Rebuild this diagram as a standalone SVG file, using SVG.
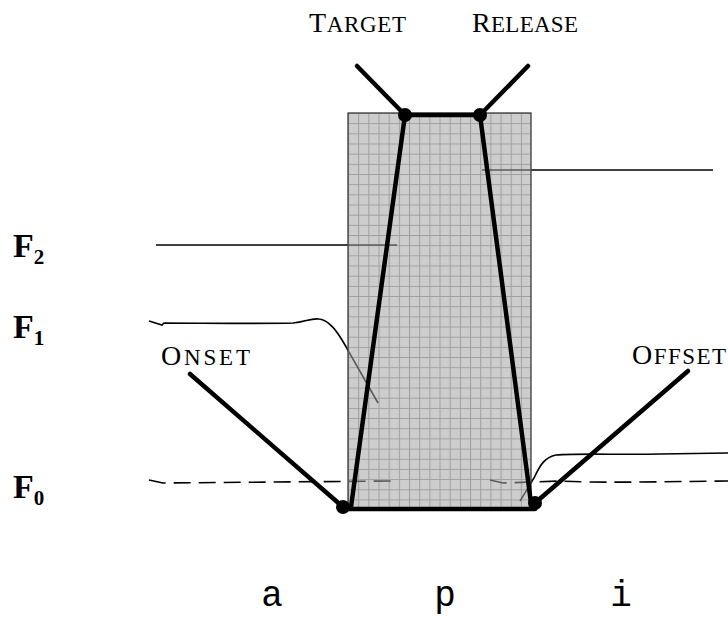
<svg xmlns="http://www.w3.org/2000/svg" width="728" height="619" viewBox="0 0 728 619">
<style>
.lbl{font-family:"Liberation Serif","Times New Roman",serif;fill:#000}
.flbl{font-family:"Liberation Serif","Times New Roman",serif;font-weight:bold;fill:#000}
.seg{font-family:"Liberation Mono","DejaVu Sans Mono",monospace;fill:#000;font-size:36px}
.trace{fill:none;stroke-width:1.6}
.dash{fill:none;stroke-width:1.6;stroke-dasharray:17 8}
.thick{fill:none;stroke:#000;stroke-width:4.5;stroke-linecap:round}
.dot{fill:#000}
</style>
<defs>
<pattern id="grid" x="348" y="113" width="10.17" height="10.17" patternUnits="userSpaceOnUse">
<rect width="10.17" height="10.17" fill="#cdcdcd"/>
<path d="M0,0.5 H10.17 M0.5,0 V10.17" stroke="#a0a0a0" stroke-width="1"/>
</pattern>
<clipPath id="inrect"><rect x="348" y="113" width="183" height="396"/></clipPath>
<g id="tracks">
<path class="trace" d="M156,245 H397"/>
<path class="trace" d="M482,170 H713"/>
<path class="trace" d="M149,321 L162,325 L164,323 C200,323 260,324 293,323 C305,322 311,318 319,319 C329,320 337,331 345,345 L378,403"/>
<path class="trace" d="M520,501 C526,492 530,484 534,478 C540,465 545,457 556,455 C580,453 620,455 660,454 L728,453"/>
<path class="dash" d="M149,480 L163,483 L391,481"/>
<path class="dash" d="M490,480 L503,483 L560,481 C600,483 640,482 728,481"/>
</g>
</defs>

<g id="formant-traces" stroke="#000">
<use href="#tracks"/>
</g>

<g id="segment-p">
<rect x="348" y="113" width="183" height="396" fill="url(#grid)" stroke="#3a3a3a" stroke-width="1.3"/>
</g>

<g id="formant-traces-inside" stroke="#5a5a5a" clip-path="url(#inrect)">
<use href="#tracks"/>
</g>

<g id="connectors">
<path class="thick" d="M357,66 L405,115"/>
<path class="thick" d="M528,66 L480,115"/>
<path class="thick" d="M405,115 H480"/>
<path class="thick" d="M405,115 L351,507"/>
<path class="thick" d="M480,115 L531,503"/>
<path class="thick" d="M343,509 H535"/>
<path class="thick" d="M190,374 L343,507"/>
<path class="thick" d="M688,371 L535,503"/>
</g>

<g id="target"><circle class="dot" cx="405" cy="115" r="7"/>
<text class="lbl" x="309" y="32" textLength="97" lengthAdjust="spacing"><tspan font-size="28">T</tspan><tspan font-size="23">ARGET</tspan></text></g>
<g id="release"><circle class="dot" cx="480" cy="115" r="7"/>
<text class="lbl" x="472" y="32" textLength="106" lengthAdjust="spacing"><tspan font-size="28">R</tspan><tspan font-size="23">ELEASE</tspan></text></g>
<g id="onset"><circle class="dot" cx="343" cy="507" r="7"/>
<text class="lbl" x="161" y="365" textLength="89" lengthAdjust="spacing"><tspan font-size="28">O</tspan><tspan font-size="23">NSET</tspan></text></g>
<g id="offset"><circle class="dot" cx="535" cy="503" r="7"/>
<text class="lbl" x="632" y="364" textLength="94" lengthAdjust="spacing"><tspan font-size="28">O</tspan><tspan font-size="23">FFSET</tspan></text></g>

<g id="f2"><text class="flbl" x="13" y="257" font-size="34">F<tspan font-size="21" dy="7">2</tspan></text></g>
<g id="f1"><text class="flbl" x="13" y="338" font-size="34">F<tspan font-size="21" dy="7">1</tspan></text></g>
<g id="f0"><text class="flbl" x="13" y="498" font-size="34">F<tspan font-size="21" dy="7">0</tspan></text></g>

<g id="seg-a"><text class="seg" x="272" y="606" text-anchor="middle">a</text></g>
<g id="seg-p"><text class="seg" x="445" y="606" text-anchor="middle">p</text></g>
<g id="seg-i"><text class="seg" x="621" y="606" text-anchor="middle">i</text></g>
</svg>
